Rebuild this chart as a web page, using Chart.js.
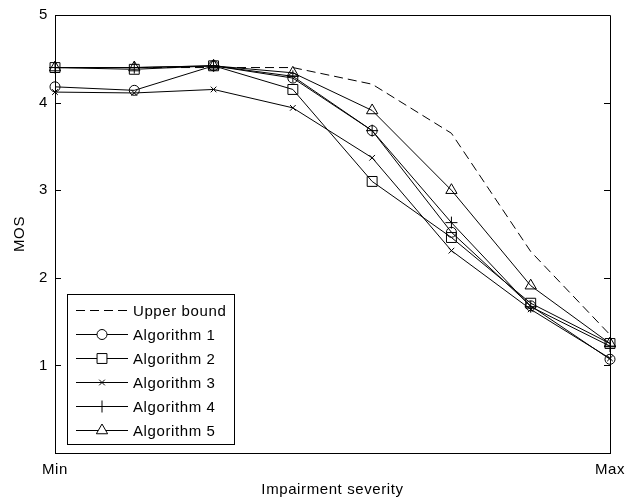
<!DOCTYPE html>
<html>
<head>
<meta charset="utf-8">
<script src="https://cdn.jsdelivr.net/npm/chart.js@4/dist/chart.umd.min.js"></script>
<style>
  html, body { margin: 0; padding: 0; background: #fff; }
  #wrap { width: 625px; height: 499px; }
</style>
</head>
<body>
<div id="wrap"><canvas id="c" width="625" height="499"></canvas></div>
<script>
// Impairment severity levels (x categories)
const severityLevels = ['Min', 'L2', 'L3', 'L4', 'L5', 'L6', 'L7', 'Max'];
// Y tick values
const mosTicks = [1, 2, 3, 4, 5];

// Series values (MOS)
const upperBound = [4.40, 4.40, 4.40, 4.40, 4.21, 3.65, 2.30, 1.35];
const algorithm1 = [4.18, 4.14, 4.42, 4.28, 3.68, 2.52, 1.68, 1.07];
const algorithm2 = [4.40, 4.38, 4.42, 4.15, 3.10, 2.46, 1.71, 1.25];
const algorithm3 = [4.12, 4.11, 4.15, 3.94, 3.37, 2.31, 1.64, 1.08];
const algorithm4 = [4.40, 4.40, 4.42, 4.30, 3.68, 2.63, 1.67, 1.22];
const algorithm5 = [4.40, 4.40, 4.42, 4.34, 3.91, 3.00, 1.91, 1.25];

const FONT = 'Liberation Sans, Arial, sans-serif';

function series(label, data, style, radius, dash) {
  return {
    label, data,
    borderColor: '#000', borderWidth: 1,
    borderDash: dash || [],
    backgroundColor: 'rgba(0,0,0,0)',
    pointStyle: style || 'circle',
    pointRadius: style ? radius : 0,
    pointHoverRadius: style ? radius : 0,
    pointBorderColor: '#000',
    pointBackgroundColor: 'rgba(0,0,0,0)',
    pointBorderWidth: 1,
    tension: 0, fill: false, clip: false
  };
}

const spacingPlugin = {
  id: 'letterSpacing',
  beforeDraw(chart) { try { chart.ctx.letterSpacing = '0.6px'; } catch (e) {} }
};

const boxPlugin = {
  id: 'boxAndTicks',
  afterDraw(chart) {
    const {ctx, chartArea: a, scales: {y}} = chart;
    ctx.save();
    ctx.strokeStyle = '#000';
    ctx.lineWidth = 1;
    ctx.beginPath();
    ctx.rect(Math.round(a.left) + 0.5, Math.round(a.top) + 0.5,
             Math.round(a.right - a.left), Math.round(a.bottom - a.top));
    ctx.stroke();
    // inward ticks on left and right
    ctx.beginPath();
    mosTicks.forEach(v => {
      const py = Math.round(y.getPixelForValue(v)) + 0.5;
      ctx.moveTo(a.left, py); ctx.lineTo(a.left + 6, py);
      ctx.moveTo(a.right, py); ctx.lineTo(a.right - 6, py);
    });
    ctx.stroke();
    ctx.restore();
  }
};

const legendPlugin = {
  id: 'insideLegend',
  afterDraw(chart) {
    const {ctx} = chart;
    const x0 = 67, y0 = 294, w = 167, h = 150;
    ctx.save();
    ctx.fillStyle = '#fff';
    ctx.fillRect(x0, y0, w, h);
    ctx.strokeStyle = '#000';
    ctx.lineWidth = 1;
    ctx.strokeRect(x0 + 0.5, y0 + 0.5, w, h);
    chart.data.datasets.forEach((ds, i) => {
      const cy = Math.round(y0 + 16 + i * 24) + 0.5;
      ctx.save();
      ctx.strokeStyle = '#000';
      ctx.lineWidth = 1;
      ctx.setLineDash(ds.borderDash || []);
      ctx.beginPath();
      ctx.moveTo(76, cy); ctx.lineTo(128, cy);
      ctx.stroke();
      ctx.restore();
      if (ds.pointRadius > 0) {
        ctx.save();
        ctx.strokeStyle = '#000';
        ctx.fillStyle = '#fff';
        ctx.lineWidth = 1;
        Chart.helpers.drawPoint(ctx, {
          pointStyle: ds.pointStyle, radius: ds.pointRadius, rotation: 0, borderWidth: 1
        }, 102, cy);
        ctx.restore();
      }
      ctx.fillStyle = '#000';
      ctx.font = '15px ' + FONT;
      ctx.textBaseline = 'middle';
      ctx.textAlign = 'left';
      ctx.fillText(ds.label, 133, cy + 1);
    });
    ctx.restore();
  }
};

new Chart(document.getElementById('c'), {
  type: 'line',
  data: {
    labels: severityLevels,
    datasets: [
      series('Upper bound', upperBound, null, 0, [9, 5]),
      series('Algorithm 1', algorithm1, 'circle', 5),
      series('Algorithm 2', algorithm2, 'rect', 7),
      series('Algorithm 3', algorithm3, 'crossRot', 4),
      series('Algorithm 4', algorithm4, 'cross', 6),
      series('Algorithm 5', algorithm5, 'triangle', 6.5)
    ]
  },
  options: {
    responsive: false,
    animation: false,
    devicePixelRatio: 1,
    layout: { padding: { left: 0, right: 15, top: 15, bottom: 0 }, autoPadding: false },
    plugins: { legend: { display: false }, tooltip: { enabled: false } },
    scales: {
      x: {
        type: 'category',
        offset: false,
        grid: { display: false, drawTicks: false },
        border: { display: true, color: '#000', width: 1 },
        ticks: {
          color: '#000', font: { family: FONT, size: 15 }, padding: 8,
          autoSkip: false, maxRotation: 0,
          callback: (v, i) => (i === 0 || i === severityLevels.length - 1) ? severityLevels[i] : ''
        },
        title: { display: true, text: 'Impairment severity', color: '#000',
                 font: { family: FONT, size: 15 }, padding: { top: 0, bottom: 0 } },
        afterFit: s => { s.height = 46; s.paddingLeft = 0; s.paddingRight = 0; }
      },
      y: {
        min: 0, max: 5,
        grid: { display: false, drawTicks: false },
        border: { display: true, color: '#000', width: 1 },
        ticks: {
          stepSize: 1, color: '#000', font: { family: FONT, size: 15 }, padding: 7,
          callback: v => mosTicks.includes(v) ? String(v) : ''
        },
        title: { display: true, text: 'MOS', color: '#000',
                 font: { family: FONT, size: 15 }, padding: { top: 11, bottom: 0 } },
        afterFit: s => { s.width = 55; s.paddingTop = 0; s.paddingBottom = 0; }
      }
    }
  },
  plugins: [spacingPlugin, boxPlugin, legendPlugin]
});
</script>
</body>
</html>
